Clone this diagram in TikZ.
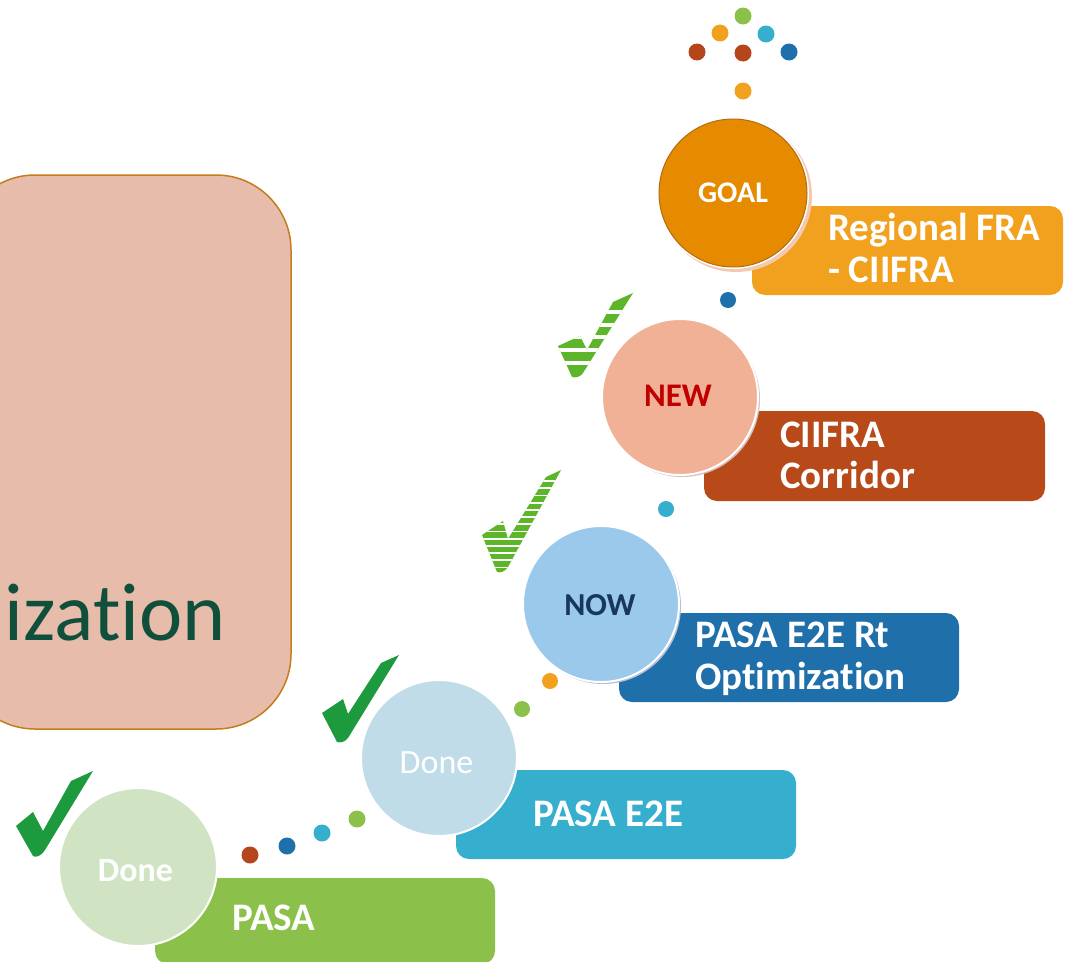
\documentclass[tikz,border=0pt]{standalone}
\usepackage{fontspec}
\setmainfont{Carlito}[RawFeature=-liga]
\definecolor{boxbg}{HTML}{E8BCAA}
\definecolor{boxline}{HTML}{C47D1C}
\definecolor{textgreen}{HTML}{0F4F3B}
\definecolor{goalfill}{HTML}{E68A00}
\definecolor{goaledge}{HTML}{B06A10}
\definecolor{goalshadow}{HTML}{F4C9B0}
\definecolor{regfill}{HTML}{F2A11F}
\definecolor{newfill}{HTML}{F0B196}
\definecolor{newshadow}{HTML}{D9BFB8}
\definecolor{newtext}{HTML}{C00000}
\definecolor{corrfill}{HTML}{B84A1A}
\definecolor{nowfill}{HTML}{9AC9EC}
\definecolor{nowshadow}{HTML}{B5C0D2}
\definecolor{nowtext}{HTML}{17375E}
\definecolor{optfill}{HTML}{1F6FAB}
\definecolor{donetwofill}{HTML}{C0DCE8}
\definecolor{e2efill}{HTML}{36AECE}
\definecolor{doneonefill}{HTML}{D0E4C4}
\definecolor{pasafill}{HTML}{8BC14A}
\definecolor{checkdark}{HTML}{1E9A3E}
\definecolor{checklight}{HTML}{5DB52A}
\definecolor{dotbrown}{HTML}{B5451B}
\definecolor{dotblue}{HTML}{1F6FAB}
\definecolor{dotcyan}{HTML}{36AECE}
\definecolor{dotgreen}{HTML}{8BC14A}
\definecolor{dotorange}{HTML}{F2A11F}
\tikzset{
  stagebox/.style={rectangle, rounded corners=13pt, draw=none, inner sep=0pt},
  stagecircle/.style={circle, draw=white, line width=2pt, inner sep=0pt},
  boxtext/.style={text=white, font=\fontsize{39}{42}\selectfont\bfseries, inner sep=0pt, anchor=base west},
  dotnode/.style={circle, inner sep=0pt, minimum size=17pt, draw=none},
  smalldot/.style={circle, inner sep=0pt, minimum size=16pt, draw=none},
}
\begin{document}
\begin{tikzpicture}[x=1pt,y=-1pt]
\useasboundingbox (0,0) rectangle (1073,961);
\begin{scope}
\clip (0,0) rectangle (1073,961);
% big background box
\node[rectangle, rounded corners=75pt, fill=boxbg, draw=boxline, line width=1.5pt,
      minimum width=331pt, minimum height=554pt, inner sep=0pt] (bigbox) at (125.5,452) {};
\node[anchor=base east, text=textgreen, inner sep=0pt, font=\fontsize{82}{90}\selectfont] (bigtext) at (226,640) {ization};

% stage boxes
\node[stagebox, fill=regfill, minimum width=311pt, minimum height=89pt] (regbox) at (907.5,250.5) {};
\node[stagebox, fill=corrfill, minimum width=341pt, minimum height=90pt] (corrbox) at (874.5,456) {};
\node[stagebox, fill=optfill, minimum width=340pt, minimum height=89pt] (optbox) at (789,657.5) {};
\node[stagebox, fill=e2efill, minimum width=340pt, minimum height=89pt] (e2ebox) at (626,814.5) {};
\node[stagebox, fill=pasafill, minimum width=340pt, minimum height=86pt] (pasabox) at (325,921) {};

\node[boxtext] (regA) at (828,240) {Regional FRA};
\node[boxtext] (regB) at (828,282) {- CIIFRA};
\node[boxtext] (corrA) at (780,447) {CIIFRA};
\node[boxtext] (corrB) at (780,488) {Corridor};
\node[boxtext] (optA) at (695,647) {PASA E2E Rt};
\node[boxtext] (optB) at (695,689) {Optimization};
\node[boxtext] (e2eA) at (533,826) {PASA E2E};
\node[boxtext] (pasaA) at (232,930) {PASA};

% circle shadows
\fill[goalshadow] (736,196) circle (76pt);
\fill[newshadow] (682,399) circle (78pt);
\fill[nowshadow] (603,606) circle (78pt);

% circles
\node[stagecircle, fill=goalfill, minimum size=150pt] (goal) at (733,193) {};
\draw[goaledge, line width=1pt] (733,193) circle (74pt);
\node[stagecircle, fill=newfill, minimum size=156pt] (new) at (680,397) {};
\node[stagecircle, fill=nowfill, minimum size=156pt] (now) at (601,604) {};
\node[stagecircle, fill=donetwofill, minimum size=156pt] (donetwo) at (439,758) {};
\node[stagecircle, fill=doneonefill, minimum size=158pt] (doneone) at (138,867) {};

\node[text=white, inner sep=0pt, font=\fontsize{30}{32}\selectfont\bfseries] (goalt) at (733,192.5) {GOAL};
\node[text=newtext, inner sep=0pt, font=\fontsize{33}{35}\selectfont\bfseries] (newt) at (678,396) {NEW};
\node[text=nowtext, inner sep=0pt, font=\fontsize{32}{34}\selectfont\bfseries] (nowt) at (600,605) {NOW};
\node[text=white, inner sep=0pt, font=\fontsize{34}{36}\selectfont] (donetwot) at (436.5,762.5) {Done};
\node[text=white, inner sep=0pt, font=\fontsize{34}{36}\selectfont\bfseries] (doneonet) at (135.5,871) {Done};

% dots top cluster
\node[dotnode, fill=dotgreen] (t1) at (743,16) {};
\node[dotnode, fill=dotorange] (t2) at (720,33) {};
\node[dotnode, fill=dotcyan] (t3) at (766,34) {};
\node[dotnode, fill=dotbrown] (t4) at (697,52) {};
\node[dotnode, fill=dotbrown] (t5) at (743,53) {};
\node[dotnode, fill=dotblue] (t6) at (789,52) {};
\node[dotnode, fill=dotorange] (t7) at (743,91) {};
% dots between stages
\node[smalldot, fill=dotblue] (d1) at (728,300) {};
\node[smalldot, fill=dotcyan] (d2) at (666,509) {};
\node[smalldot, fill=dotorange] (d3) at (550,681) {};
\node[smalldot, fill=dotgreen] (d4) at (522,709) {};
\node[dotnode, fill=dotbrown] (d5) at (250,855) {};
\node[dotnode, fill=dotblue] (d6) at (287,846) {};
\node[dotnode, fill=dotcyan] (d7) at (322,833) {};
\node[dotnode, fill=dotgreen] (d8) at (357,819) {};

% solid check marks
\fill[checkdark] (16,826) -- (33,812) -- (43,831) -- (71,781) -- (93,771) -- (45,850)
   .. controls (41,856) and (36,858) .. (33,856) -- cycle;
\fill[checkdark] (322,713) -- (343,699) -- (348,714) -- (381,663) -- (399,655) -- (348,738)
   .. controls (345,742) and (340,743) .. (337,742) -- cycle;

% striped check near NOW
\begin{scope}
\clip (482,535) -- (503,521) -- (508,539) -- (546,477) -- (561,470) -- (508,567)
   .. controls (505,572) and (500,573) .. (497,572) -- cycle;
\fill[checklight] (470,460) rectangle (570,580);
\foreach \k in {0,...,12} {
  \draw[white, line width=1.8pt] (470,481+7.2*\k) -- (570,481+7.2*\k);
}
\end{scope}

% striped check near NEW
\begin{scope}
\clip (558,346) -- (580,336) -- (587,350) -- (613,302) -- (633,293) -- (583,373)
   .. controls (580,377) and (576,378) .. (572,377) -- cycle;
\fill[checklight] (550,285) rectangle (640,385);
\foreach \yy in {312,325,337,350,363} {
  \draw[white, line width=3.5pt] (550,\yy) -- (640,\yy);
}
\end{scope}
\end{scope}
\end{tikzpicture}
\end{document}
